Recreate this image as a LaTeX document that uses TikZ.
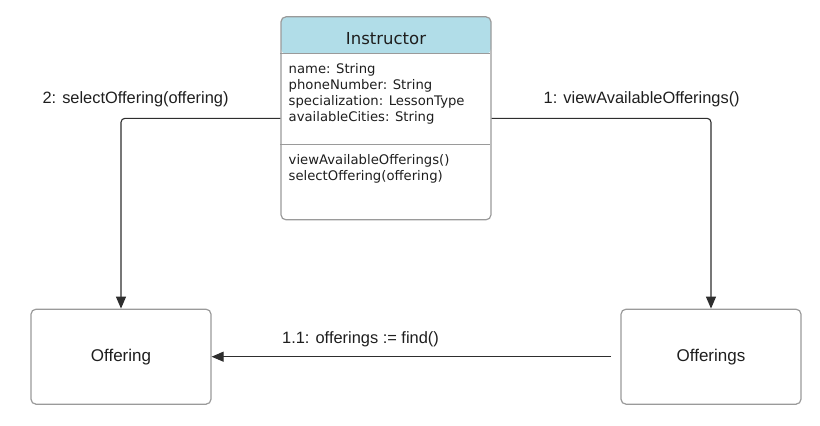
\documentclass[tikz,border=0pt]{standalone}
\usepackage{fontspec}
\setmainfont{Liberation Sans}
\newfontfamily\umlfont{DejaVu Sans}
\usepackage{tikz}
\usetikzlibrary{arrows.meta}
\usetikzlibrary{positioning}

\definecolor{headblue}{HTML}{B1DDE8}
\definecolor{boxgray}{HTML}{9A9A9A}
\definecolor{linegray}{HTML}{2E2E2E}
\definecolor{textgray}{HTML}{1E1E1E}

\begin{document}
\begin{tikzpicture}[x=1pt,y=-1pt,
  paths/.style={-{Triangle[width=10pt,length=12pt]}, line width=1.1pt, draw=linegray, rounded corners=4pt},
  objbox/.style={draw=boxgray, line width=1.2pt, rounded corners=5pt, minimum width=180pt, minimum height=95pt,
    font=\fontsize{17}{20}\selectfont, text=textgray},
  classbox/.style={draw=boxgray, line width=1.2pt, rounded corners=5pt, minimum width=210pt, minimum height=203pt,
    path picture={\fill[headblue] (path picture bounding box.north west) rectangle ([yshift=-37pt]path picture bounding box.north east);}},
  members/.style={anchor=north west, inner sep=0pt, align=left, text=textgray, font=\umlfont\fontsize{13.2}{16}\selectfont},
  msg/.style={anchor=base, inner sep=0pt, text=textgray, font=\fontsize{16.4}{19}\selectfont}]

 \useasboundingbox (0,0) rectangle (820,426);

 \node[classbox] (instructor) at (386,118.3) {};

 \node[anchor=base, inner sep=0pt, text=textgray, font=\umlfont\fontsize{16.5}{19}\selectfont]
     (instructor_title) at (386,44.3) {Instructor};

 \draw[boxgray, line width=1.2pt] (instructor.north west) ++(0,37) -- ++(210,0);
 \draw[boxgray, line width=1.2pt] (instructor.north west) ++(0,128) -- ++(210,0);

 \node[members] (instructor_attrs) at (288.5,63.5)
     {name: String\\phoneNumber: String\\specialization: LessonType\\availableCities: String};

 \node[members] (instructor_ops) at (288.5,154.3)
     {viewAvailableOfferings()\\selectOffering(offering)};

 \node[objbox] (offering) at (121,356.7) {Offering};

 \node[objbox] (offerings) at (711,356.7) {Offerings};

 \coordinate (find_start) at (611,356.7);

 \draw [paths] (instructor.west) -| (offering.north);
 \draw [paths] (instructor.east) -| (offerings.north);
 \draw [paths] (find_start) -- (offering.east);

 \node[msg] (msg_select) at (135.5,103.3) {2: selectOffering(offering)};
 \node[msg] (msg_view) at (641.7,103.3) {1: viewAvailableOfferings()};
 \node[msg] (msg_find) at (360.5,343.3) {1.1: offerings := find()};

\end{tikzpicture}
\end{document}
